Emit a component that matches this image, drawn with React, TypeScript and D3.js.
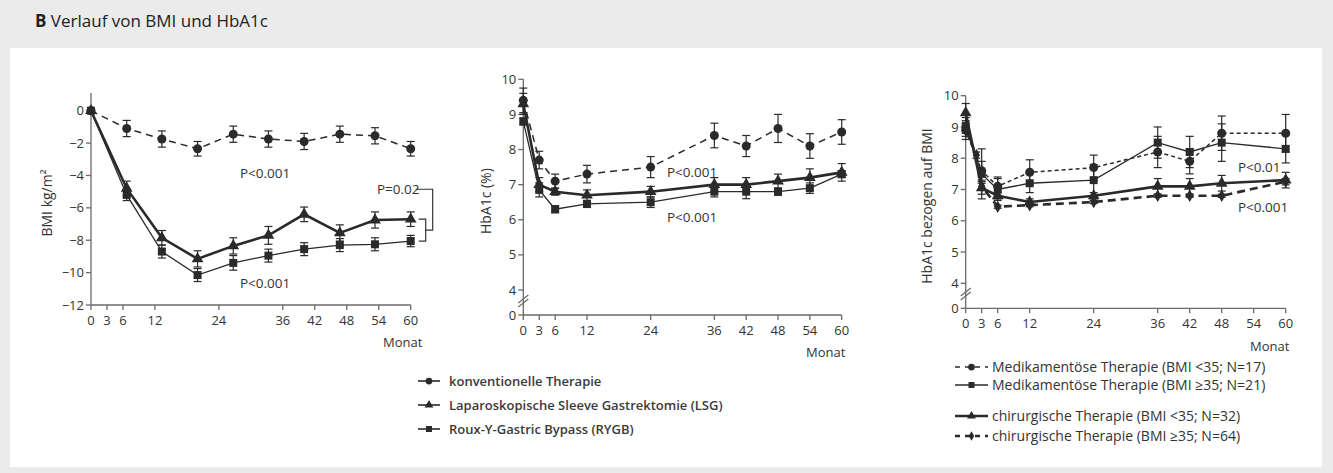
import React from 'react';
import * as d3 from 'd3';

// ---------- DATA ----------
const monthTicks = [0, 3, 6, 12, 24, 36, 42, 48, 54, 60];

// Panel A: BMI change
const bmiMonths = [0, 6.7, 13.3, 20, 26.7, 33.3, 40, 46.7, 53.3, 60];
const bmiConv = [0, -1.1, -1.75, -2.35, -1.45, -1.75, -1.9, -1.45, -1.55, -2.35];
const bmiConvErr = [0, 0.5, 0.5, 0.45, 0.5, 0.5, 0.5, 0.5, 0.5, 0.45];
const bmiLSG = [0, -4.8, -7.85, -9.15, -8.35, -7.7, -6.4, -7.55, -6.75, -6.7];
const bmiLSGErr = [0, 0.45, 0.45, 0.5, 0.5, 0.55, 0.45, 0.5, 0.5, 0.45];
const bmiRYGB = [0, -5.2, -8.7, -10.15, -9.4, -8.95, -8.55, -8.3, -8.25, -8.05];
const bmiRYGBErr = [0, 0.35, 0.4, 0.4, 0.45, 0.4, 0.4, 0.4, 0.4, 0.35];
const bmiTicks = [0, -2, -4, -6, -8, -10, -12];

// Panel B: HbA1c
const hbMonths = [0, 3, 6, 12, 24, 36, 42, 48, 54, 60];
const hbConv = [9.4, 7.7, 7.1, 7.3, 7.5, 8.4, 8.1, 8.6, 8.1, 8.5];
const hbConvErr = [0.35, 0.25, 0.2, 0.25, 0.3, 0.35, 0.3, 0.4, 0.35, 0.35];
const hbLSG = [9.3, 7.0, 6.8, 6.7, 6.8, 7.0, 7.0, 7.1, 7.2, 7.35];
const hbLSGErr = [0.3, 0.2, 0.1, 0.15, 0.15, 0.2, 0.2, 0.2, 0.25, 0.25];
const hbRYGB = [8.8, 6.85, 6.3, 6.45, 6.5, 6.8, 6.8, 6.8, 6.9, 7.3];
const hbRYGBErr = [0.1, 0.2, 0.1, 0.1, 0.15, 0.15, 0.2, 0.1, 0.15, 0.1];
const hbTicks = [0, 4, 5, 6, 7, 8, 9, 10];

// Panel C: HbA1c by BMI group
const grpMonths = [0, 3, 6, 12, 24, 36, 42, 48, 60];
const medLow = [8.9, 7.6, 7.1, 7.55, 7.7, 8.2, 7.9, 8.8, 8.8];
const medLowErr = [0.3, 0.3, 0.3, 0.4, 0.4, 0.5, 0.4, 0.55, 0.6];
const medHigh = [9.0, 7.5, 7.0, 7.2, 7.3, 8.5, 8.2, 8.5, 8.3];
const medHighErr = [0.3, 0.8, 0.35, 0.3, 0.5, 0.5, 0.5, 0.6, 0.45];
const chirLow = [9.45, 7.05, 6.8, 6.6, 6.8, 7.1, 7.1, 7.2, 7.3];
const chirLowErr = [0.3, 0.2, 0.1, 0.1, 0.1, 0.25, 0.25, 0.25, 0.25];
const chirHighMonths = [0, 2, 3, 6, 12, 24, 36, 42, 48, 60];
const chirHigh = [8.9, 8.1, 7.1, 6.45, 6.5, 6.6, 6.8, 6.8, 6.8, 7.25];
const chirHighErr = [0.1, 0.1, 0.1, 0.05, 0.05, 0.05, 0.05, 0.05, 0.05, 0.1];

const legendMain = ['konventionelle Therapie', 'Laparoskopische Sleeve Gastrektomie (LSG)', 'Roux-Y-Gastric Bypass (RYGB)'];
const legendGroups = [
  'Medikamentöse Therapie (BMI <35; N=17)',
  'Medikamentöse Therapie (BMI ≥35; N=21)',
  'chirurgische Therapie (BMI <35; N=32)',
  'chirurgische Therapie (BMI ≥35; N=64)',
];

// ---------- STYLE ----------
const FONT = "'Open Sans', 'Noto Sans', sans-serif";
const AXIS = '#6a6a6a';
const INK = '#2a2a2a';

type Style = { marker: string; width: number; dash?: string };
const sConv: Style = { marker: 'circle', width: 1.5, dash: '7,5' };
const sLSG: Style = { marker: 'triangle', width: 2.6 };
const sRYGB: Style = { marker: 'square', width: 1.3 };
const sMedLow: Style = { marker: 'circle', width: 1.5, dash: '4,3' };
const sMedHigh: Style = { marker: 'square', width: 1.3 };
const sChirLow: Style = { marker: 'triangle', width: 2.6 };
const sChirHigh: Style = { marker: 'diamond', width: 2.6, dash: '8,5' };

function Marker({ kind, x, y, k = 1 }: { kind: string; x: number; y: number; k?: number }) {
  if (kind === 'circle') return <circle cx={x} cy={y} r={4.5 * k} fill={INK} />;
  if (kind === 'square') return <rect x={x - 4 * k} y={y - 4 * k} width={8 * k} height={8 * k} fill={INK} />;
  const sym = kind === 'triangle' ? d3.symbolTriangle : d3.symbolDiamond;
  const size = (kind === 'triangle' ? 60 : 45) * k * k;
  return <path d={d3.symbol(sym, size)() || ''} transform={`translate(${x},${y})`} fill={INK} />;
}

type SeriesDef = { months: number[]; values: number[]; errors: number[]; style: Style };

function Series({ s, x, y }: { s: SeriesDef; x: any; y: any }) {
  const pts = s.months.map((m, i) => [x(m), y(s.values[i])] as [number, number]);
  const line = d3.line()(pts) || '';
  return (
    <g>
      <path d={line} fill="none" stroke={INK} strokeWidth={s.style.width} strokeDasharray={s.style.dash} />
      {s.months.map((m, i) => {
        const e = s.errors[i];
        if (!e) return null;
        const cx = x(m);
        const y1 = y(s.values[i] + e);
        const y2 = y(s.values[i] - e);
        return (
          <g key={'e' + i} stroke={INK} strokeWidth={1.2}>
            <line x1={cx} x2={cx} y1={y1} y2={y2} />
            <line x1={cx - 4} x2={cx + 4} y1={y1} y2={y1} />
            <line x1={cx - 4} x2={cx + 4} y1={y2} y2={y2} />
          </g>
        );
      })}
      {s.months.map((m, i) => (
        <Marker key={'m' + i} kind={s.style.marker} x={x(m)} y={y(s.values[i])} />
      ))}
    </g>
  );
}

function Axes({ x, y, yTicks, yTop, label, labelX, brk }: any) {
  const [x0, x1] = x.range();
  const yBase = y(y.domain()[0]);
  return (
    <g fontFamily={FONT} fontSize={13} fill="#333">
      <line x1={x0} x2={x0} y1={yBase} y2={yTop} stroke={AXIS} strokeWidth={1.3} />
      <line x1={x0} x2={x1} y1={yBase} y2={yBase} stroke={AXIS} strokeWidth={1.3} />
      {yTicks.map((t: number) => (
        <g key={'y' + t}>
          <line x1={x0 - 5} x2={x0} y1={y(t)} y2={y(t)} stroke={AXIS} strokeWidth={1.3} />
          <text x={x0 - 7} y={y(t)} dy="0.35em" textAnchor="end">{String(t).replace('-', '−')}</text>
        </g>
      ))}
      {monthTicks.map((t) => (
        <g key={'x' + t}>
          <line x1={x(t)} x2={x(t)} y1={yBase} y2={yBase + 5} stroke={AXIS} strokeWidth={1.3} />
          <text x={x(t)} y={yBase + 20} textAnchor="middle">{t}</text>
        </g>
      ))}
      {brk && (
        <g stroke={AXIS} strokeWidth={1.2}>
          <line x1={x0 - 5} x2={x0 + 5} y1={brk + 3} y2={brk - 5} />
          <line x1={x0 - 5} x2={x0 + 5} y1={brk + 7} y2={brk - 1} />
        </g>
      )}
      <text transform={`translate(${labelX},${(yBase + yTop) / 2 + 4}) rotate(-90)`} textAnchor="middle" fontSize={14}>
        {label}
      </text>
    </g>
  );
}

export default function App() {
  // Panel A
  const xA = d3.scaleLinear().domain([0, 60]).range([91, 410.7]);
  const yA = d3.scaleLinear().domain([-12, 0]).range([305, 110.7]);
  // Panel B
  const xB = d3.scaleLinear().domain([0, 60]).range([523.3, 841.7]);
  const yB = d3.scaleLinear().domain([0, 4, 10]).range([315, 290, 79.3]);
  // Panel C
  const xC = d3.scaleLinear().domain([0, 60]).range([965.7, 1285.7]);
  const yC = d3.scaleLinear().domain([0, 4, 10]).range([308.3, 283.3, 95.7]);

  const seriesA: SeriesDef[] = [
    { months: bmiMonths, values: bmiConv, errors: bmiConvErr, style: sConv },
    { months: bmiMonths, values: bmiRYGB, errors: bmiRYGBErr, style: sRYGB },
    { months: bmiMonths, values: bmiLSG, errors: bmiLSGErr, style: sLSG },
  ];
  const seriesB: SeriesDef[] = [
    { months: hbMonths, values: hbConv, errors: hbConvErr, style: sConv },
    { months: hbMonths, values: hbRYGB, errors: hbRYGBErr, style: sRYGB },
    { months: hbMonths, values: hbLSG, errors: hbLSGErr, style: sLSG },
  ];
  const seriesC: SeriesDef[] = [
    { months: grpMonths, values: medLow, errors: medLowErr, style: sMedLow },
    { months: grpMonths, values: medHigh, errors: medHighErr, style: sMedHigh },
    { months: chirHighMonths, values: chirHigh, errors: chirHighErr, style: sChirHigh },
    { months: grpMonths, values: chirLow, errors: chirLowErr, style: sChirLow },
  ];

  const lastLSG = yA(bmiLSG[bmiLSG.length - 1]);
  const lastRYGB = yA(bmiRYGB[bmiRYGB.length - 1]);
  const bx = xA(60) + 15;

  const legendMainStyles = [sConv, sLSG, sRYGB];
  const legendGroupStyles = [sMedLow, sMedHigh, sChirLow, sChirHigh];
  const legendGroupY = [367, 385, 416, 436];

  return (
    <svg width={1333} height={473} style={{ position: 'absolute', left: 0, top: 0 }}>
      <rect x={0} y={0} width={1333} height={473} fill="#ebebeb" />
      <rect x={10} y={48} width={1312} height={419} fill="#ffffff" />
      <text x={35} y={27} fontFamily={FONT} fontSize={17} fill="#222">
        <tspan fontWeight="bold">B</tspan> Verlauf von BMI und HbA1c
      </text>

      {/* Panel A */}
      <Axes x={xA} y={yA} yTicks={bmiTicks} yTop={93} label="BMI kg/m²" labelX={52} />
      {seriesA.map((s, i) => <Series key={i} s={s} x={xA} y={yA} />)}
      <g fontFamily={FONT} fontSize={13.5} fill="#333">
        <text x={240} y={178}>P&lt;0.001</text>
        <text x={240} y={288}>P&lt;0.001</text>
        <text x={377} y={194}>P=0.02</text>
      </g>
      <g fill="none" stroke="#333" strokeWidth={1.2}>
        <path d={`M${bx - 10},${yA(-4.85)} H${bx + 7} V${(lastLSG + lastRYGB) / 2 + 0} H${bx}`} />
        <path d={`M${bx - 7},${lastLSG} H${bx} V${lastRYGB} H${bx - 7}`} />
      </g>
      <text x={383} y={347} fontFamily={FONT} fontSize={13} fill="#333">Monat</text>

      {/* Panel B */}
      <Axes x={xB} y={yB} yTicks={hbTicks} yTop={79.3} label="HbA1c (%)" labelX={491} brk={300} />
      {seriesB.map((s, i) => <Series key={i} s={s} x={xB} y={yB} />)}
      <g fontFamily={FONT} fontSize={13.5} fill="#333">
        <text x={667} y={177}>P&lt;0.001</text>
        <text x={667} y={222}>P&lt;0.001</text>
      </g>
      <text x={806} y={357} fontFamily={FONT} fontSize={13} fill="#333">Monat</text>

      {/* Panel C */}
      <Axes x={xC} y={yC} yTicks={hbTicks} yTop={95.7} label="HbA1c bezogen auf BMI" labelX={932} brk={293} />
      {seriesC.map((s, i) => <Series key={i} s={s} x={xC} y={yC} />)}
      <g fontFamily={FONT} fontSize={13.5} fill="#333">
        <text x={1238} y={172}>P&lt;0.01</text>
        <text x={1238} y={212}>P&lt;0.001</text>
      </g>
      <text x={1250} y={351} fontFamily={FONT} fontSize={13} fill="#333">Monat</text>

      {/* Legend main */}
      {legendMain.map((t, i) => {
        const cy = 381 + i * 24;
        return (
          <g key={t}>
            <line x1={418} x2={440} y1={cy} y2={cy} stroke={INK} strokeWidth={1.6} />
            <Marker kind={legendMainStyles[i].marker} x={429} y={cy} k={0.75} />
            <text x={449} y={cy} dy="0.35em" fontFamily={FONT} fontSize={13} fontWeight={600} fill="#3a3a3a">{t}</text>
          </g>
        );
      })}

      {/* Legend groups */}
      {legendGroups.map((t, i) => {
        const cy = legendGroupY[i];
        const st = legendGroupStyles[i];
        return (
          <g key={t}>
            <line x1={955} x2={988} y1={cy} y2={cy} stroke={INK} strokeWidth={st.width} strokeDasharray={st.dash ? '5,5' : undefined} />
            <Marker kind={st.marker} x={971.5} y={cy} k={0.75} />
            <text x={992} y={cy} dy="0.35em" fontFamily={FONT} fontSize={14} fill="#333">{t}</text>
          </g>
        );
      })}
    </svg>
  );
}
